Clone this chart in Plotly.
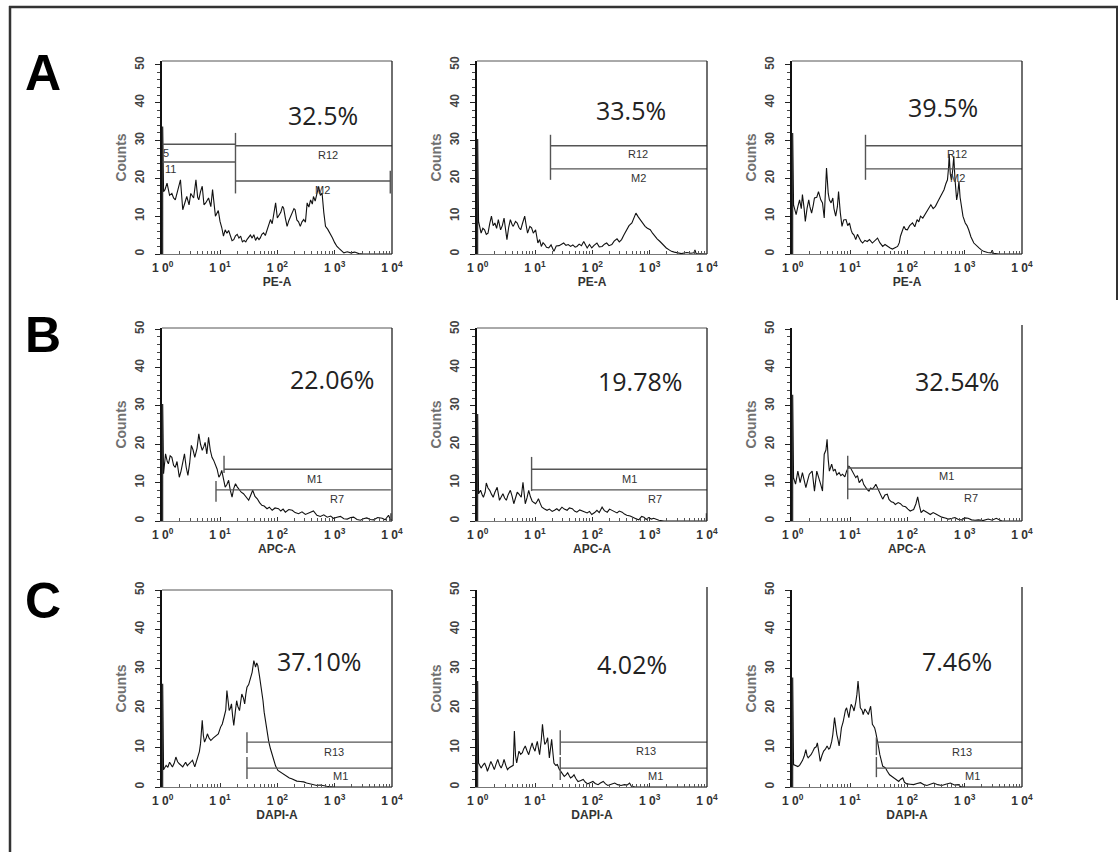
import plotly.graph_objects as go

# ---------------- data (log10 of fluorescence, counts) ----------------
A1_logx = [0, 0, 0.015, 0.04, 0.076, 0.12, 0.16, 0.19, 0.22, 0.27,
           0.31, 0.35, 0.39, 0.42, 0.46, 0.49, 0.54, 0.58, 0.61, 0.63,
           0.66, 0.69, 0.72, 0.75, 0.80, 0.84, 0.87, 0.92, 0.97, 1.0,
           1.03, 1.06, 1.09, 1.12, 1.15, 1.18, 1.21, 1.24, 1.27, 1.30,
           1.33, 1.36, 1.39, 1.42, 1.45, 1.47, 1.50, 1.53, 1.56, 1.59,
           1.62, 1.65, 1.68, 1.70, 1.73, 1.76, 1.79, 1.82, 1.85, 1.88,
           1.91, 1.94, 1.97, 2.0, 2.02, 2.06, 2.09, 2.11, 2.14, 2.17,
           2.20, 2.23, 2.26, 2.29, 2.31, 2.34, 2.37, 2.40, 2.43, 2.46,
           2.49, 2.52, 2.55, 2.58, 2.61, 2.63, 2.66, 2.69, 2.72, 2.75,
           2.78, 2.81, 2.84, 2.88, 2.92, 2.96, 3.0, 3.04, 3.08, 3.12,
           3.16, 3.22, 3.28, 3.35, 3.42, 3.5, 4.0]
A1_counts = [0, 33.7, 16.5, 17, 18.7, 15.5, 16, 14.8, 14.3, 17.5,
             19.6, 11.7, 13.5, 15.2, 13, 16, 14.8, 19.6, 15, 14.3,
             16.5, 17.9, 13, 13.5, 14.8, 12.5, 17, 10, 11.5, 8.6,
             7, 4.7, 6.4, 5.5, 6.2, 4.9, 3.5, 3.8, 4.8, 5.2,
             4.2, 4.7, 3.2, 3.6, 3.2, 3.8, 4.4, 5.0, 4.2, 5.1,
             3.6, 4.4, 3.8, 4.2, 5.2, 5.6, 4.9, 6.4, 7.5, 9.1,
             8.0, 10.5, 13.5, 9.5, 10, 11, 12.6, 12.1, 9.5, 7.3,
             8.8, 10, 10.8, 12, 11.7, 9, 8.5, 7.3, 8.5, 9.1,
             8.4, 13.5, 12.4, 14.3, 13.2, 15.2, 14, 16.4, 17.9, 15.5,
             16.1, 11, 7.3, 6.5, 5.5, 4.3, 3, 2, 1.4, 0.8,
             0.3, 0.6, 0.3, 0.5, 0.1, 0, 0]

A2_logx = [0, 0, 0.015, 0.06, 0.09, 0.12, 0.15, 0.18, 0.21, 0.24,
           0.27, 0.30, 0.33, 0.36, 0.40, 0.43, 0.46, 0.51, 0.54, 0.57,
           0.60, 0.62, 0.66, 0.69, 0.72, 0.75, 0.78, 0.82, 0.85, 0.87,
           0.91, 0.94, 0.97, 1.01, 1.05, 1.08, 1.11, 1.14, 1.17, 1.20,
           1.24, 1.28, 1.33, 1.37, 1.42, 1.46, 1.50, 1.54, 1.58, 1.62,
           1.66, 1.70, 1.73, 1.77, 1.81, 1.85, 1.88, 1.91, 1.95, 1.99,
           2.03, 2.08, 2.12, 2.17, 2.21, 2.25, 2.29, 2.34, 2.38, 2.43,
           2.47, 2.51, 2.55, 2.60, 2.64, 2.69, 2.72, 2.76, 2.80, 2.83,
           2.87, 2.92, 2.96, 3.01, 3.05, 3.09, 3.13, 3.18, 3.23, 3.29,
           3.34, 3.38, 3.43, 3.47, 3.55, 3.65, 3.72, 3.77, 3.79, 3.81,
           3.9, 4.0]
A2_counts = [0, 30.4, 8.6, 5.5, 6.8, 6.4, 5.2, 5.5, 8, 10,
             7.5, 8.2, 6.8, 9.1, 6.4, 7.5, 9.5, 3.8, 7, 9.1,
             7.8, 7.3, 8.6, 8.2, 7, 6.4, 8, 10, 7.2, 5.5,
             7.3, 6.9, 5.5, 6.4, 2.9, 3.8, 2, 3, 2.5, 1.8,
             1.6, 2.4, 0.7, 2.1, 2.2, 2.6, 2.9, 2.3, 2.5, 2,
             2.4, 1.8, 2, 2.6, 2.2, 3.3, 2.4, 1.6, 2.5, 1.6,
             2.3, 2.9, 1.9, 2, 2.6, 2.9, 2.2, 2.5, 3.4, 4,
             3.2, 3.8, 5, 6.4, 7.5, 8.2, 9.5, 10.8, 9.8, 9.1,
             8.2, 7.3, 6.8, 6.4, 5.5, 4.7, 4, 3.3, 2.4, 1.6,
             1.1, 0.7, 0.5, 0.3, 0.1, 0.4, 0.2, 0.3, 1.1, 0.1,
             0, 0]

A3_logx = [0, 0, 0.015, 0.04, 0.06, 0.09, 0.12, 0.15, 0.17, 0.20,
           0.22, 0.25, 0.28, 0.30, 0.33, 0.36, 0.38, 0.42, 0.45, 0.49,
           0.52, 0.55, 0.57, 0.59, 0.62, 0.64, 0.67, 0.70, 0.72, 0.75,
           0.78, 0.80, 0.83, 0.86, 0.89, 0.93, 0.96, 0.99, 1.02, 1.04,
           1.07, 1.10, 1.13, 1.16, 1.19, 1.22, 1.26, 1.30, 1.34, 1.39,
           1.43, 1.48, 1.52, 1.57, 1.61, 1.65, 1.70, 1.74, 1.79, 1.83,
           1.86, 1.88, 1.91, 1.94, 1.97, 2.00, 2.04, 2.09, 2.13, 2.17,
           2.20, 2.23, 2.27, 2.32, 2.36, 2.41, 2.45, 2.49, 2.53, 2.58,
           2.61, 2.64, 2.67, 2.70, 2.72, 2.73, 2.75, 2.77, 2.79, 2.81,
           2.83, 2.86, 2.88, 2.90, 2.92, 2.94, 2.97, 3.01, 3.04, 3.07,
           3.11, 3.16, 3.20, 3.25, 3.29, 3.33, 3.40, 3.46, 3.48, 3.50,
           3.6, 4.0]
A3_counts = [0, 32, 13, 11.5, 10.4, 12.5, 14.3, 12, 15.7, 12,
             8.6, 12, 14.3, 12.5, 10.8, 13, 14.8, 15, 16.5, 14.3,
             13.5, 9.5, 15, 22.7, 16, 14.3, 13.5, 14.8, 12, 10,
             12.5, 16.5, 11, 7.3, 9, 9.1, 7.5, 8.2, 6.3, 5.5,
             5, 3.8, 5.2, 4.2, 3.4, 2.9, 3.6, 3.3, 3.8, 2.9,
             3.4, 4.2, 3, 2, 2.5, 2, 1.6, 1.3, 1.8, 2,
             3, 4.7, 6, 7.3, 6.5, 6.4, 7.5, 8.2, 7.2, 9.1,
             8.5, 10, 9.5, 10.8, 11.8, 13, 12, 12.6, 13.8, 15.2,
             16, 17, 18.5, 19.6, 23, 26.2, 21, 19.6, 22, 25.8,
             20, 14.3, 16, 19.2, 15, 12.6, 10, 8.2, 7.5, 6.4,
             4.5, 2.9, 2.2, 1.6, 1.1, 0.7, 0.4, 0.3, 1, 0.2,
             0, 0]

B1_logx = [0, 0, 0.015, 0.05, 0.08, 0.10, 0.13, 0.16, 0.19, 0.22,
           0.25, 0.29, 0.32, 0.34, 0.38, 0.41, 0.44, 0.47, 0.50, 0.53,
           0.56, 0.60, 0.63, 0.66, 0.69, 0.72, 0.74, 0.77, 0.80, 0.83,
           0.86, 0.89, 0.92, 0.95, 0.98, 1.01, 1.03, 1.06, 1.09, 1.12,
           1.15, 1.18, 1.21, 1.24, 1.27, 1.30, 1.34, 1.37, 1.41, 1.45,
           1.50, 1.53, 1.57, 1.61, 1.65, 1.69, 1.73, 1.77, 1.82, 1.86,
           1.91, 1.96, 2.02, 2.06, 2.10, 2.14, 2.20, 2.26, 2.31, 2.37,
           2.43, 2.49, 2.56, 2.63, 2.69, 2.75, 2.81, 2.87, 2.93, 2.98,
           3.04, 3.10, 3.16, 3.22, 3.28, 3.33, 3.39, 3.45, 3.50, 3.56,
           3.62, 3.68, 3.75, 3.83, 3.88, 3.94, 3.97, 4.0]
B1_counts = [0, 30.5, 12.3, 17.5, 15.5, 14.9, 17, 16.6, 14.5, 14,
             15.5, 11.4, 13, 14.9, 17.5, 14, 11.9, 15, 19.7, 18.5,
             16.6, 19, 22.7, 20, 18.4, 19.5, 20.5, 17.5, 21.8, 18.5,
             16.6, 15.8, 14.5, 13.5, 11.4, 12.2, 13.2, 11, 8.8, 9.5,
             10.6, 8, 6.2, 8.5, 9.7, 8.9, 8, 7.5, 7.1, 6.3,
             5.4, 6.5, 8, 6.4, 5.8, 4.8, 4.1, 3.9, 3.2, 3.6,
             2.8, 3.4, 3.2, 2.6, 3.1, 2.3, 3, 2.8, 2.2, 1.9,
             2.4, 1.7, 2.1, 2.6, 1.5, 1.2, 1.6, 1, 1.3, 0.7,
             1, 1.2, 0.6, 0.5, 0.9, 1, 0.4, 0.2, 0.6, 0.8,
             0.4, 0.3, 0.9, 0.7, 0.3, 1.5, 0.4, 0.3]

B2_logx = [0, 0, 0.015, 0.05, 0.08, 0.10, 0.13, 0.15, 0.18, 0.21,
           0.24, 0.27, 0.30, 0.34, 0.38, 0.41, 0.44, 0.47, 0.50, 0.53,
           0.57, 0.60, 0.63, 0.66, 0.69, 0.72, 0.76, 0.79, 0.83, 0.86,
           0.89, 0.92, 0.95, 0.98, 1.01, 1.04, 1.06, 1.09, 1.12, 1.16,
           1.21, 1.25, 1.30, 1.34, 1.38, 1.42, 1.47, 1.51, 1.56, 1.60,
           1.65, 1.69, 1.73, 1.78, 1.82, 1.86, 1.91, 1.95, 1.99, 2.04,
           2.08, 2.12, 2.17, 2.21, 2.26, 2.30, 2.34, 2.39, 2.43, 2.47,
           2.52, 2.56, 2.60, 2.66, 2.72, 2.76, 2.81, 2.86, 2.90, 2.94,
           2.98, 3.03, 3.07, 3.12, 3.16, 3.25, 4.0]
B2_counts = [0, 27.9, 7.1, 8, 6.8, 6.2, 7.5, 9.9, 8.6, 8,
             7, 6.2, 7.5, 8.8, 5.4, 6.3, 7.1, 6, 5.4, 6.8,
             8, 6.5, 4.5, 6, 7.5, 7, 6.2, 10.1, 4.5, 6,
             8, 6.3, 5.2, 4.8, 4.5, 5.2, 5.8, 4.6, 3.6, 3.2,
             2.8, 3.1, 2.5, 2.8, 3.2, 2.7, 3.6, 3.1, 2.8, 3.4,
             3.2, 2.6, 2.3, 2.9, 2.6, 2.3, 2.1, 2.5, 1.7, 2.2,
             2.8, 2.2, 3.6, 2.7, 2.3, 3.1, 2.8, 2.4, 2.1, 2.6,
             2.3, 1.8, 1.5, 1.3, 1, 0.6, 0.3, 1.2, 1, 0.4,
             0.9, 0.5, 0.7, 0.3, 0.2, 0, 0]

B3_logx = [0, 0, 0.015, 0.05, 0.09, 0.13, 0.17, 0.20, 0.23, 0.26,
           0.29, 0.34, 0.38, 0.42, 0.46, 0.49, 0.52, 0.55, 0.58, 0.60,
           0.62, 0.64, 0.68, 0.71, 0.74, 0.77, 0.81, 0.84, 0.87, 0.91,
           0.94, 0.98, 1.01, 1.04, 1.07, 1.10, 1.13, 1.16, 1.19, 1.21,
           1.24, 1.27, 1.30, 1.33, 1.36, 1.39, 1.42, 1.45, 1.48, 1.50,
           1.54, 1.57, 1.61, 1.65, 1.68, 1.72, 1.76, 1.79, 1.84, 1.88,
           1.92, 1.97, 2.01, 2.05, 2.08, 2.11, 2.15, 2.18, 2.21, 2.24,
           2.28, 2.31, 2.36, 2.40, 2.45, 2.49, 2.55, 2.60, 2.66, 2.72,
           2.78, 2.83, 2.89, 2.95, 3.00, 3.06, 3.12, 3.18, 3.24, 3.32,
           3.41, 3.48, 3.55, 3.60, 3.65, 4.0]
B3_counts = [0, 32.9, 11.3, 9.6, 13, 10, 12.6, 11, 8.7, 10.5,
             12.2, 13, 7.8, 13, 11.3, 9.5, 7.8, 17.4, 18.5, 21.3,
             16, 13, 14.8, 13, 13.5, 12, 12.6, 11.8, 12.2, 11.5,
             13, 14.3, 13.8, 13, 12, 11.3, 11.8, 10, 10.6, 10.9,
             9.5, 8.7, 8.2, 7.8, 8.6, 8.3, 8.8, 9.6, 8.5, 7.8,
             6.5, 5.7, 6.8, 7, 5.6, 5, 4.8, 4.3, 4.8, 4.5,
             3.9, 3.7, 3.1, 2.6, 2.8, 3, 4.5, 6.3, 4, 2.2,
             2.8, 2.6, 2.1, 1.7, 2.2, 1.9, 1.4, 1, 0.8, 0.5,
             0.7, 0.9, 0.4, 0.3, 0.8, 0.7, 0.3, 0.2, 0.3, 0.1,
             0.5, 0.2, 0.7, 0.3, 0, 0]

C1_logx = [0, 0, 0.015, 0.06, 0.09, 0.12, 0.17, 0.20, 0.23, 0.26,
           0.29, 0.32, 0.35, 0.40, 0.43, 0.46, 0.49, 0.52, 0.56, 0.61,
           0.64, 0.66, 0.69, 0.71, 0.73, 0.76, 0.78, 0.81, 0.84, 0.88,
           0.91, 0.94, 0.97, 1.01, 1.04, 1.07, 1.10, 1.12, 1.14, 1.16,
           1.18, 1.20, 1.22, 1.24, 1.27, 1.29, 1.31, 1.34, 1.36, 1.38,
           1.41, 1.43, 1.45, 1.47, 1.50, 1.52, 1.54, 1.56, 1.59, 1.61,
           1.62, 1.64, 1.66, 1.69, 1.71, 1.73, 1.75, 1.77, 1.79, 1.81,
           1.83, 1.85, 1.88, 1.91, 1.94, 1.97, 2.01, 2.04, 2.08, 2.12,
           2.17, 2.21, 2.25, 2.30, 2.34, 2.40, 2.46, 2.51, 2.57, 2.63,
           2.69, 2.75, 2.80, 2.86, 2.92, 3.0, 4.0]
C1_counts = [0, 26.2, 4.4, 5.5, 5, 6.3, 5.1, 6, 7.6, 6.4,
             5.9, 5.5, 5.1, 6.3, 5.4, 5.9, 6.4, 6.8, 5.1, 7.2,
             9, 11, 16.9, 13, 11.4, 12.5, 13.5, 12.4, 11.8, 12.4,
             12.7, 13.1, 13.5, 15.2, 16, 17.7, 19.5, 24.5, 21, 19.4,
             20, 21.1, 18, 15.6, 19.5, 21.9, 20.5, 19.4, 21.5, 23.6,
             22.5, 21.1, 23.5, 25.3, 26, 27, 28, 29.1, 32.1, 31,
             30.4, 31.5, 30.8, 28, 26.2, 24, 21.9, 19, 16.9, 14.5,
             12.7, 11.5, 9.7, 8, 6.3, 5.3, 4.2, 3.9, 3.5, 3.1,
             2.7, 2.3, 2.1, 1.8, 1.5, 1.4, 1.3, 1, 0.8, 0.6,
             0.4, 0.5, 0.3, 0.2, 0.1, 0, 0]

C2_logx = [0, 0, 0.015, 0.06, 0.09, 0.12, 0.15, 0.17, 0.20, 0.23,
           0.26, 0.29, 0.32, 0.35, 0.38, 0.41, 0.44, 0.46, 0.49, 0.52,
           0.55, 0.59, 0.62, 0.64, 0.66, 0.68, 0.70, 0.72, 0.75, 0.78,
           0.80, 0.83, 0.86, 0.89, 0.92, 0.95, 0.97, 1.00, 1.02, 1.04,
           1.06, 1.08, 1.11, 1.13, 1.15, 1.17, 1.20, 1.22, 1.25, 1.27,
           1.29, 1.31, 1.33, 1.36, 1.39, 1.42, 1.45, 1.48, 1.51, 1.54,
           1.57, 1.60, 1.62, 1.65, 1.68, 1.71, 1.75, 1.79, 1.84, 1.88,
           1.92, 1.96, 2.01, 2.05, 2.10, 2.14, 2.19, 2.23, 2.27, 2.33,
           2.39, 2.44, 2.50, 2.56, 2.61, 2.65, 2.68, 2.75, 4.0]
C2_counts = [0, 26.9, 6.1, 4.8, 5.5, 6.1, 5, 4, 5.2, 6.5,
             5.5, 4.4, 5.8, 7, 5.6, 4.8, 5.9, 7, 5.5, 4.4,
             4.9, 5.3, 5.5, 14.2, 8, 6.1, 7.5, 9.1, 8.3, 8.7,
             9.6, 10.4, 9.2, 8.2, 9.8, 11.2, 10, 9.1, 10.5, 11.6,
             9.8, 8.2, 12, 15.9, 13, 10.8, 11.5, 12.5, 7.4, 9.5,
             12.1, 9, 6.1, 5.5, 5.7, 4.6, 4, 3.4, 2.7, 3.1,
             3.6, 2.8, 2.3, 2.6, 3.1, 2.2, 1.4, 1.6, 1.9, 1.2,
             0.8, 1.1, 1.4, 0.9, 0.6, 1, 1.4, 0.8, 0.4, 0.7,
             1, 0.6, 0.4, 0.6, 0.5, 1, 0.2, 0, 0]

C3_logx = [0, 0, 0.015, 0.06, 0.09, 0.12, 0.15, 0.17, 0.20, 0.23,
           0.25, 0.27, 0.30, 0.32, 0.35, 0.38, 0.41, 0.43, 0.46, 0.48,
           0.51, 0.54, 0.57, 0.60, 0.63, 0.65, 0.68, 0.70, 0.73, 0.75,
           0.77, 0.79, 0.81, 0.83, 0.85, 0.88, 0.90, 0.92, 0.94, 0.96,
           0.98, 1.00, 1.02, 1.05, 1.07, 1.10, 1.12, 1.14, 1.16, 1.18,
           1.21, 1.23, 1.26, 1.28, 1.30, 1.32, 1.34, 1.36, 1.38, 1.39,
           1.41, 1.43, 1.45, 1.47, 1.50, 1.52, 1.55, 1.57, 1.60, 1.62,
           1.65, 1.69, 1.72, 1.76, 1.80, 1.85, 1.88, 1.92, 1.95, 1.99,
           2.05, 2.11, 2.17, 2.23, 2.29, 2.34, 2.40, 2.46, 2.53, 2.60,
           2.67, 2.75, 2.82, 2.89, 2.93, 3.0, 4.0]
C3_counts = [0, 27.8, 5.7, 5.3, 5.2, 5.5, 6.2, 6.7, 7.8, 9.5,
             8, 7.4, 7.9, 8.2, 9, 9.9, 10.2, 11.2, 8.5, 6.5,
             8, 9.1, 9.6, 10.4, 9.6, 9.9, 11.5, 13.3, 17.6, 15,
             13.3, 12, 10.4, 12.5, 15, 16.5, 18.4, 19.5, 20.1, 19,
             17.6, 19.5, 21, 20.2, 19.3, 21.5, 23.5, 26.9, 23, 20.1,
             19.5, 18.4, 19.8, 19.3, 18.8, 18.4, 19.5, 20.5, 17.5, 15.9,
             15.5, 15, 13.8, 12.5, 10, 8.2, 6.5, 5.3, 5, 4.8,
             4, 3.1, 2.8, 2.3, 2, 1.4, 1.9, 2.3, 1.2, 0.8,
             0.7, 0.6, 0.9, 1.1, 0.6, 0.4, 0.7, 1, 0.6, 0.4,
             0.7, 1, 0.5, 0.6, 0.1, 0, 0]

panel_logx = [A1_logx, A2_logx, A3_logx, B1_logx, B2_logx, B3_logx, C1_logx, C2_logx, C3_logx]
panel_counts = [A1_counts, A2_counts, A3_counts, B1_counts, B2_counts, B3_counts, C1_counts, C2_counts, C3_counts]

row_letters = ["A", "B", "C"]
row_channels = ["PE-A", "APC-A", "DAPI-A"]
y_tick_values = [0, 10, 20, 30, 40, 50]
x_tick_values = [1, 10, 100, 1000, 10000]
x_tick_labels = ["1 0<sup>0</sup>", "1 0<sup>1</sup>", "1 0<sup>2</sup>", "1 0<sup>3</sup>", "1 0<sup>4</sup>"]

percent_labels = ["32.5%", "33.5%", "39.5%", "22.06%", "19.78%", "32.54%", "37.10%", "4.02%", "7.46%"]
percent_logx = [2.80, 2.68, 2.63, 2.95, 2.83, 2.87, 2.72, 2.69, 2.87]
percent_y = [36.8, 38.1, 38.9, 37.0, 36.5, 36.5, 32.0, 31.3, 32.0]

# gates: horizontal bars (log start, log end, count) and end markers (log pos, count low, count high)
gate_bars = [
    [(0, 1.27, 29.0), (0, 1.27, 24.3), (1.27, 4, 28.6), (1.27, 3.97, 19.3)],
    [(1.27, 4, 28.6), (1.27, 4, 22.5)],
    [(1.27, 4, 28.6), (1.27, 4, 22.5)],
    [(1.07, 4, 13.5), (0.93, 3.98, 8.1)],
    [(0.94, 4, 13.5), (0.94, 4, 8.1)],
    [(0.96, 4, 13.8), (0.96, 4, 8.3)],
    [(1.47, 4, 11.4), (1.47, 4, 4.8)],
    [(1.44, 4, 11.4), (1.44, 4, 4.8)],
    [(1.46, 4, 11.4), (1.46, 4, 4.8)],
]
gate_ends = [
    [(1.27, 16, 32), (3.97, 16, 22)],
    [(1.27, 19.6, 31.5)],
    [(1.27, 19.6, 31.5)],
    [(1.07, 12.5, 17), (0.93, 5, 10.4), (3.98, 0, 2)],
    [(0.94, 7.8, 16.7), (3.99, 0, 2)],
    [(0.96, 5.7, 17)],
    [(1.47, 8.6, 13.9), (1.47, 2.0, 7.6)],
    [(1.44, 8.1, 14.4), (1.44, 1.8, 7.6)],
    [(1.46, 8.1, 12.6), (1.46, 2.5, 7.6)],
]
gate_names = [
    [("R12", 2.89, 26.2), ("M2", 2.78, 16.9), ("5", 0.05, 26.7), ("11", 0.14, 22.5)],
    [("R12", 2.80, 26.5), ("M2", 2.80, 20.0)],
    [("R12", 2.87, 26.5), ("M2", 2.87, 20.0)],
    [("M1", 2.64, 10.9), ("R7", 3.04, 5.7)],
    [("M1", 2.64, 10.9), ("R7", 3.10, 5.7)],
    [("M1", 2.68, 11.7), ("R7", 3.11, 6.0)],
    [("R13", 2.98, 8.8), ("M1", 3.10, 2.8)],
    [("R13", 2.94, 9.1), ("M1", 3.10, 2.8)],
    [("R13", 2.96, 8.8), ("M1", 3.13, 2.8)],
]

# ---------------- layout geometry (pixels) ----------------
W, H = 1120, 852
col_px = [(162, 392), (477, 707), (792, 1022)]
row_px = [(61, 254), (328, 521), (590, 787)]
row_ytop = [51.0, 50.3, 50.0]
has_top = [True, True, True, True, True, False, True, False, False]

def fx(p):
    return p / W

def fy(p):
    return 1 - p / H

fig = go.Figure()
shapes = []
annotations = []
XTICKFONT = dict(family="Liberation Sans, Arial", size=12, color="#333", weight="bold")
YTICKFONT = dict(family="Liberation Sans, Arial", size=12, color="#444", weight="bold")

for k in range(9):
    r, c = divmod(k, 3)
    sfx = "" if k == 0 else str(k + 1)
    xa, ya = "x" + sfx, "y" + sfx
    x0, x1 = col_px[c]
    t, b = row_px[r]

    # histogram
    fig.add_trace(go.Scatter(
        x=[10 ** u for u in panel_logx[k]], y=panel_counts[k],
        xaxis=xa, yaxis=ya, mode="lines",
        line=dict(color="#111", width=1.1), hoverinfo="skip", showlegend=False))

    # gate bars
    gx, gy = [], []
    for (u0, u1, yv) in gate_bars[k]:
        gx += [10 ** u0, 10 ** u1, None]
        gy += [yv, yv, None]
    for (u, y0, y1) in gate_ends[k]:
        gx += [10 ** u, 10 ** u, None]
        gy += [y0, y1, None]
    fig.add_trace(go.Scatter(
        x=gx, y=gy, xaxis=xa, yaxis=ya, mode="lines",
        line=dict(color="#555", width=1.4), hoverinfo="skip", showlegend=False))

    fig.layout["xaxis" + sfx] = dict(
        domain=[fx(x0), fx(x1)], anchor=ya, type="log", range=[-0.012, 4],
        automargin=False,
        tickmode="array", tickvals=x_tick_values, ticktext=x_tick_labels,
        ticks="inside", ticklen=4, tickcolor="#333", tickfont=XTICKFONT, ticklabelstandoff=3,
        minor=dict(ticks="inside", ticklen=3, tickcolor="#555", dtick="D1", showgrid=False),
        showline=True, linecolor="#777", linewidth=1, showgrid=False, zeroline=False,
        title=dict(text=row_channels[r], standoff=0,
                   font=dict(family="Liberation Sans, Arial", size=12, color="#333", weight="bold")),
        fixedrange=True)
    fig.layout["yaxis" + sfx] = dict(
        domain=[fy(b), fy(t)], anchor=xa, range=[0, row_ytop[r]],
        automargin=False,
        tickmode="array", tickvals=y_tick_values, tickangle=-90,
        ticks="outside", ticklen=5, tickcolor="#222", tickfont=YTICKFONT, ticklabelstandoff=6,
        minor=dict(ticks="outside", ticklen=3, tickcolor="#444", dtick=2, showgrid=False),
        showline=True, linecolor="#111", linewidth=2, showgrid=False, zeroline=False,
        title=dict(text="Counts", standoff=3,
                   font=dict(family="Liberation Sans, Arial", size=14, color="#707070", weight="bold")),
        fixedrange=True)

    # frame lines of the plot box
    if has_top[k]:
        shapes.append(dict(type="line", xref="paper", yref="paper",
                           x0=fx(x0), x1=fx(x1), y0=fy(t), y1=fy(t),
                           line=dict(color="#555", width=1)))
    shapes.append(dict(type="line", xref="paper", yref="paper",
                       x0=fx(x1), x1=fx(x1), y0=fy(t - (3 if not has_top[k] else 0)), y1=fy(b),
                       line=dict(color="#222", width=1.3)))

    # percent
    annotations.append(dict(x=percent_logx[k], y=percent_y[k], xref=xa, yref=ya,
                            text=percent_labels[k], showarrow=False,
                            font=dict(family="Open Sans, Noto Sans", size=25, color="#222")))
    for (txt, u, yv) in gate_names[k]:
        annotations.append(dict(x=u, y=yv, xref=xa, yref=ya, text=txt, showarrow=False,
                                font=dict(family="Liberation Sans, Arial", size=11, color="#333")))

letter_px = [(43, 73), (43, 335), (43, 601)]
for r in range(3):
    annotations.append(dict(x=fx(letter_px[r][0]), y=fy(letter_px[r][1]), xref="paper", yref="paper",
                            xanchor="center", yanchor="middle",
                            text=row_letters[r], showarrow=False,
                            font=dict(family="Liberation Sans Narrow, Liberation Sans, Arial",
                                      size=50, color="#000", weight="bold")))

# outer frame
shapes.append(dict(type="line", xref="paper", yref="paper", x0=fx(9), x1=fx(1118),
                   y0=fy(7), y1=fy(7), line=dict(color="#333", width=2.5)))
shapes.append(dict(type="line", xref="paper", yref="paper", x0=fx(10), x1=fx(10),
                   y0=fy(6), y1=0, line=dict(color="#333", width=2.5)))
shapes.append(dict(type="line", xref="paper", yref="paper", x0=fx(1117), x1=fx(1117),
                   y0=fy(6), y1=fy(300), line=dict(color="#333", width=2)))

fig.update_layout(width=W, height=H, margin=dict(l=0, r=0, t=0, b=0, pad=0, autoexpand=False),
                  template="none", paper_bgcolor="white", plot_bgcolor="white",
                  shapes=shapes, annotations=annotations, showlegend=False)

fig.write_html("out.html", config={"displayModeBar": False},
               post_script="document.body.style.margin='0';document.body.style.padding='0';"
                           "document.documentElement.style.overflow='hidden';")
